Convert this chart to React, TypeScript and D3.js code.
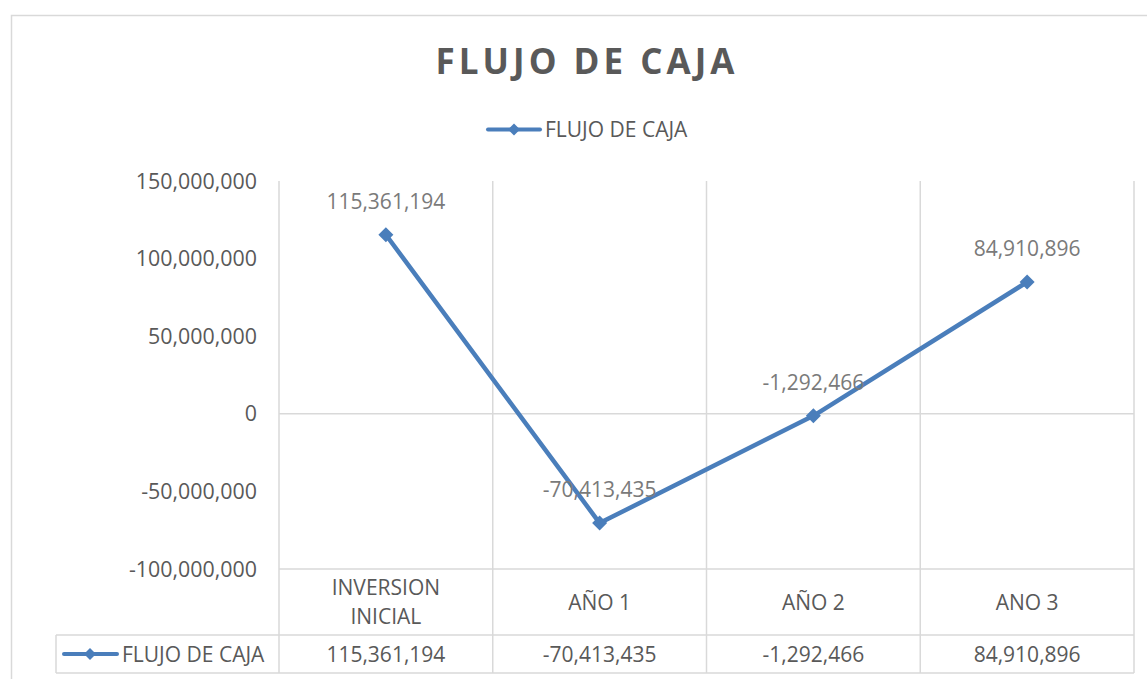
import React from "react";
import * as d3 from "d3";

const categories: string[][] = [["INVERSION", "INICIAL"], ["AÑO 1"], ["AÑO 2"], ["ANO 3"]];
const values: number[] = [115361194, -70413435, -1292466, 84910896];
const yTicks: number[] = [150000000, 100000000, 50000000, 0, -50000000, -100000000];
const seriesName = "FLUJO DE CAJA";
const title = "FLUJO DE CAJA";

const W = 1147;
const H = 679;
const FONT = "'Open Sans', 'Noto Sans', sans-serif";
const BLUE = "#4a7ebb";
const GRID = "#d9d9d9";
const TXT = "#595959";
const LBL = "#7a7a7a";
const FS = 21;

export default function App() {
  const left = 279;
  const right = 1134;
  const top = 181;
  const bottom = 569;
  const catRowBottom = 635;
  const tableBottom = 673;
  const keyLeft = 56;

  const x = d3.scaleBand<number>().domain(d3.range(categories.length)).range([left, right]).padding(0);
  const y = d3.scaleLinear().domain([-100000000, 150000000]).range([bottom, top]);
  const f = d3.format(",");
  const fmt = (v: number) => f(v).replace("\u2212", "-");
  const line = d3
    .line<number>()
    .x((_, i) => (x(i) as number) + x.bandwidth() / 2)
    .y((d) => y(d));

  const diamond = (cx: number, cy: number, r: number) =>
    `M${cx},${cy - r}L${cx + r},${cy}L${cx},${cy + r}L${cx - r},${cy}Z`;

  const bounds = [left, ...categories.map((_, i) => (x(i) as number) + x.bandwidth())];

  return (
    <svg width={W} height={H} style={{ position: "absolute", left: 0, top: 0, background: "#fff" }}>
      <rect x={11.5} y={15.5} width={W + 20} height={H + 20} fill="#fff" stroke={GRID} strokeWidth={1.5} />
      <text x={587} y={74} textAnchor="middle" fontFamily={FONT} fontWeight={700} fontSize={35} letterSpacing={4} fill={TXT}>
        {title}
      </text>
      {/* legend */}
      <g>
        <line x1={488} x2={540} y1={129.5} y2={129.5} stroke={BLUE} strokeWidth={4} strokeLinecap="round" />
        <path d={diamond(514, 129.5, 6)} fill={BLUE} />
        <text x={545} y={137} fontFamily={FONT} fontSize={FS} fill={TXT}>
          {seriesName}
        </text>
      </g>
      {/* vertical gridlines */}
      {bounds.map((bx, i) => (
        <line key={i} x1={bx} x2={bx} y1={top} y2={tableBottom} stroke={GRID} strokeWidth={1.5} />
      ))}
      {/* zero axis line */}
      <line x1={left} x2={right} y1={y(0)} y2={y(0)} stroke={GRID} strokeWidth={1.5} />
      {/* table lines */}
      <line x1={left} x2={right} y1={bottom} y2={bottom} stroke={GRID} strokeWidth={1.5} />
      <line x1={keyLeft} x2={right} y1={catRowBottom} y2={catRowBottom} stroke={GRID} strokeWidth={1.5} />
      <line x1={keyLeft} x2={right} y1={tableBottom} y2={tableBottom} stroke={GRID} strokeWidth={1.5} />
      <line x1={keyLeft} x2={keyLeft} y1={catRowBottom} y2={tableBottom} stroke={GRID} strokeWidth={1.5} />
      {/* y axis labels */}
      {yTicks.map((t) => (
        <text key={t} x={257} y={y(t) + 7.5} textAnchor="end" fontFamily={FONT} fontSize={FS + 0.4} fill={TXT}>
          {fmt(t)}
        </text>
      ))}
      {/* category labels */}
      {categories.map((c, i) => {
        const cx = (x(i) as number) + x.bandwidth() / 2;
        const mid = (bottom + catRowBottom) / 2;
        return (
          <text key={i} textAnchor="middle" fontFamily={FONT} fontSize={FS} fill={TXT}>
            {c.map((s, j) => (
              <tspan key={j} x={cx} y={mid + 7.5 + (j - (c.length - 1) / 2) * 29}>
                {s}
              </tspan>
            ))}
          </text>
        );
      })}
      {/* table values */}
      {values.map((v, i) => (
        <text key={i} x={(x(i) as number) + x.bandwidth() / 2} y={(catRowBottom + tableBottom) / 2 + 7.5} textAnchor="middle" fontFamily={FONT} fontSize={FS} fill={TXT}>
          {fmt(v)}
        </text>
      ))}
      {/* table key */}
      <line x1={64} x2={117} y1={654} y2={654} stroke={BLUE} strokeWidth={4} strokeLinecap="round" />
      <path d={diamond(90, 654, 6)} fill={BLUE} />
      <text x={122} y={661.5} fontFamily={FONT} fontSize={FS} fill={TXT}>
        {seriesName}
      </text>
      {/* series */}
      <path d={line(values) || ""} fill="none" stroke={BLUE} strokeWidth={4.5} strokeLinejoin="round" />
      {values.map((v, i) => (
        <path key={i} d={diamond((x(i) as number) + x.bandwidth() / 2, y(v), 7.5)} fill={BLUE} />
      ))}
      {/* data labels */}
      {values.map((v, i) => (
        <text key={i} x={(x(i) as number) + x.bandwidth() / 2} y={y(v) - 26} textAnchor="middle" fontFamily={FONT} fontSize={FS} fill={LBL}>
          {fmt(v)}
        </text>
      ))}
    </svg>
  );
}
